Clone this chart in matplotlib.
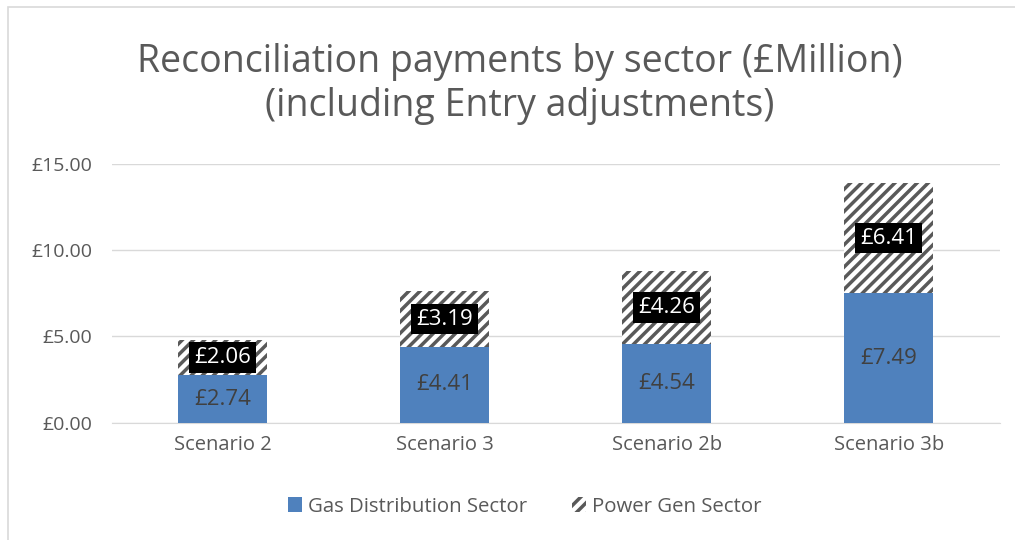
import numpy as np
import matplotlib.pyplot as plt
from matplotlib.patches import Rectangle

# Data
scenarios = ['Scenario 2', 'Scenario 3', 'Scenario 2b', 'Scenario 3b']
gas_dist = [2.74, 4.41, 4.54, 7.49]
power_gen = [2.06, 3.19, 4.26, 6.41]
yticks = [0, 5, 10, 15]

plt.rcParams['font.family'] = ['Open Sans', 'DejaVu Sans']
plt.rcParams['hatch.linewidth'] = 2.5
plt.rcParams['hatch.color'] = '#595959'

fig = plt.figure(figsize=(10.15, 5.4), dpi=100)
ax = fig.add_axes([0.110, 0.217, 0.875, 0.48])

x = np.arange(len(scenarios))
w = 0.4
blue = '#4f81bd'

b1 = ax.bar(x, gas_dist, w, color=blue, zorder=3, label='Gas Distribution Sector')
b2 = ax.bar(x, power_gen, w, bottom=gas_dist, color='white', hatch='///',
            edgecolor='#595959', linewidth=0, zorder=3, label='Power Gen Sector')

for xi, g, p in zip(x, gas_dist, power_gen):
    ax.text(xi, g / 2, f'£{g:.2f}', ha='center', va='center', fontsize=16,
            color='#404040', zorder=5)
    ax.text(xi, g + p / 2, f'£{p:.2f}', ha='center', va='center', fontsize=16,
            color='white', zorder=5,
            bbox=dict(boxstyle='square,pad=0.22', fc='black', ec='none'))

ax.set_xlim(-0.5, len(scenarios) - 0.5)
ax.set_ylim(0, 15)
ax.set_yticks(yticks)
ax.set_yticklabels([f'£{v:.2f}' for v in yticks])
ax.set_xticks(x)
ax.set_xticklabels(scenarios)
ax.tick_params(axis='both', length=0, labelsize=14.5, colors='#595959', pad=9)
ax.tick_params(axis='y', labelsize=14, pad=14)
ax.grid(axis='y', color='#d9d9d9', linewidth=1, zorder=0)
for s in ['top', 'right', 'left']:
    ax.spines[s].set_visible(False)
ax.spines['bottom'].set_color('#d9d9d9')

fig.text(0.512, 0.845, 'Reconciliation payments by sector (£Million)\n(including Entry adjustments)',
         ha='center', va='center', fontsize=27, color='#595959', linespacing=1.2)

leg = fig.legend(handles=[b1, b2], loc='center', bbox_to_anchor=(0.517, 0.062), ncol=2,
                 frameon=False, fontsize=14.7, handlelength=0.7, handleheight=0.7,
                 columnspacing=2.2, handletextpad=0.3)
for t in leg.get_texts():
    t.set_color('#595959')

# outer chart border
fig.add_artist(Rectangle((0.008, -0.1), 1.5, 1.087, transform=fig.transFigure,
                         fill=False, edgecolor='#d9d9d9', linewidth=1.2))

fig.savefig('out.png', dpi=100)
